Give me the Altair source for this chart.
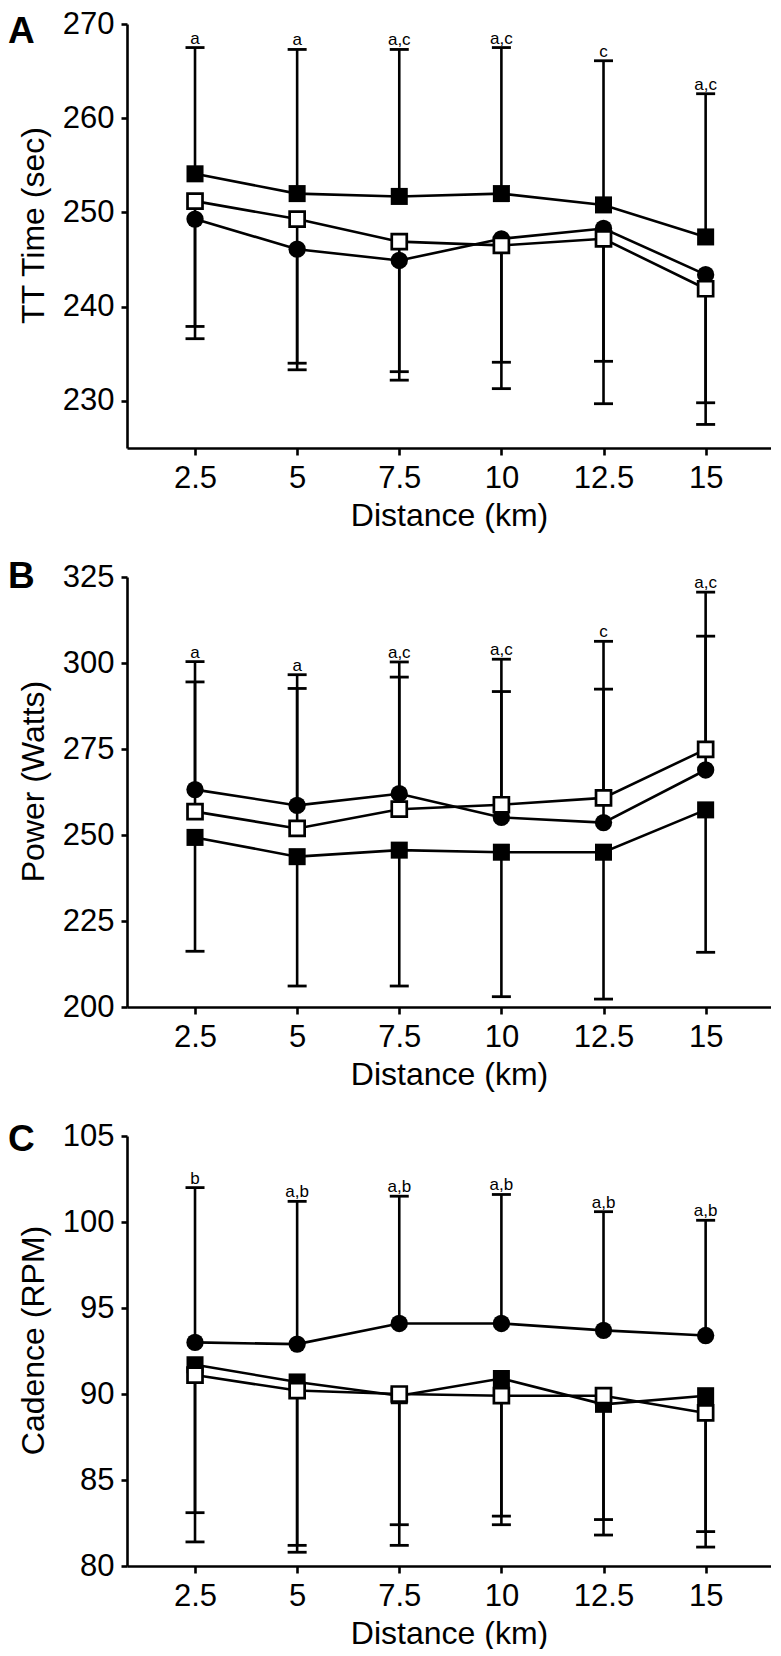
import altair as alt
import pandas as pd

FONT = "'Liberation Sans', Arial, Helvetica, sans-serif"

dist = [2.5, 5, 7.5, 10, 12.5, 15]
x_ticks = [2.5, 5, 7.5, 10, 12.5, 15]

# ---- Panel A: TT time (sec)
a_filled = [254.1, 252.0, 251.7, 252.0, 250.8, 247.4]
a_open = [251.2, 249.3, 246.9, 246.5, 247.2, 241.9]
a_circle = [249.3, 246.1, 244.9, 247.2, 248.3, 243.4]
a_filled_hi = [267.5, 267.3, 267.3, 267.5, 266.1, 262.6]
a_circle_lo = [237.9, 234.0, 233.1, 234.1, 234.2, 229.8]
a_open_lo = [236.6, 233.3, 232.2, 231.3, 229.7, 227.5]
a_sig = ["a", "a", "a,c", "a,c", "c", "a,c"]
a_ticks = [230, 240, 250, 260, 270]

# ---- Panel B: Power (Watts)
b_filled = [249.3, 243.7, 245.6, 245.0, 245.0, 257.3]
b_open = [256.8, 251.9, 257.5, 258.8, 260.8, 274.9]
b_circle = [263.2, 258.6, 262.0, 255.1, 253.6, 268.9]
b_open_hi = [300.4, 296.6, 300.3, 301.1, 306.3, 320.6]
b_circle_hi = [294.5, 292.6, 295.9, 291.7, 292.4, 307.8]
b_filled_lo = [216.2, 206.1, 206.1, 203.0, 202.3, 215.9]
b_sig = ["a", "a", "a,c", "a,c", "c", "a,c"]
b_ticks = [200, 225, 250, 275, 300, 325]

# ---- Panel C: Cadence (RPM)
c_filled = [91.7, 90.7, 89.9, 90.9, 89.4, 89.9]
c_open = [91.1, 90.2, 90.0, 89.9, 89.9, 88.9]
c_circle = [93.0, 92.9, 94.1, 94.1, 93.7, 93.4]
c_circle_hi = [102.0, 101.2, 101.5, 101.6, 100.6, 100.1]
c_filled_lo = [83.1, 81.2, 82.4, 82.9, 82.7, 82.0]
c_open_lo = [81.4, 80.8, 81.2, 82.4, 81.8, 81.1]
c_sig = ["b", "a,b", "a,b", "a,b", "a,b", "a,b"]
c_ticks = [80, 85, 90, 95, 100, 105]

W = 644
X_DOMAIN = [0.835, 16.6]


def panel(filled, opn, circ, errs, sig, ydom, yticks, ytitle, letter, letter_y, h):
    pts = pd.DataFrame(
        {
            "d": dist * 3,
            "v": circ + filled + opn,
            "s": ["circle"] * 6 + ["filled"] * 6 + ["open"] * 6,
        }
    )
    rows = []
    for means, caps in errs:
        for d, m, c in zip(dist, means, caps):
            rows.append({"d": d, "v": m, "v2": c})
    err = pd.DataFrame(rows)
    tops = [max(cs[i] for _, cs in errs) for i in range(6)]
    sigdf = pd.DataFrame({"d": dist, "v2": tops, "lab": sig})

    def X():
        return alt.X(
            "d:Q",
            scale=alt.Scale(domain=X_DOMAIN, nice=False, zero=False),
            axis=alt.Axis(
                values=x_ticks,
                format=".3~g",
                title="Distance (km)",
                titleY=77,
                titleBaseline="alphabetic",
                tickSize=7,
                labelPadding=8,
            ),
        )

    def Y(field):
        return alt.Y(
            field,
            type="quantitative",
            scale=alt.Scale(domain=ydom, nice=False, zero=False),
            axis=alt.Axis(
                values=yticks,
                title=ytitle,
                titleX=-84,
                titleY=h / 2 - 11,
                titleAngle=270,
                titleAlign="center",
                titleBaseline="alphabetic",
                tickSize=6,
                labelPadding=7,
            ),
        )

    base = alt.Chart(pts)
    line = base.mark_line(color="black", strokeWidth=2.6).encode(
        x=X(), y=Y("v"), detail="s:N"
    )
    rules = alt.Chart(err).mark_rule(color="black", strokeWidth=2.6).encode(
        x=X(), y=Y("v"), y2="v2:Q"
    )
    caps = alt.Chart(err).mark_tick(
        orient="horizontal", size=19, thickness=2.8, color="black", opacity=1
    ).encode(x=X(), y=Y("v2"))
    circles = base.transform_filter(alt.datum.s == "circle").mark_point(
        shape="circle", filled=True, size=300, color="black", opacity=1
    ).encode(x=X(), y=Y("v"))
    filled_sq = base.transform_filter(alt.datum.s == "filled").mark_point(
        shape="square", filled=True, size=290, color="black", opacity=1
    ).encode(x=X(), y=Y("v"))
    open_sq = base.transform_filter(alt.datum.s == "open").mark_point(
        shape="square",
        filled=False,
        size=225,
        fill="white",
        fillOpacity=1,
        stroke="black",
        strokeWidth=2.7,
        opacity=1,
    ).encode(x=X(), y=Y("v"))
    sigtxt = alt.Chart(sigdf).mark_text(
        font=FONT, fontSize=17, baseline="alphabetic", dy=-4, color="black"
    ).encode(x=X(), y=Y("v2"), text="lab:N")
    lett = alt.Chart(pd.DataFrame({"t": [letter]})).mark_text(
        font=FONT,
        fontSize=37,
        fontWeight="bold",
        align="left",
        baseline="alphabetic",
        color="black",
    ).encode(x=alt.value(-119), y=alt.value(letter_y), text="t:N")

    return alt.layer(
        line, rules, caps, circles, filled_sq, open_sq, sigtxt, lett
    ).properties(width=W, height=h)


pA = panel(
    a_filled, a_open, a_circle,
    [(a_filled, a_filled_hi), (a_circle, a_circle_lo), (a_open, a_open_lo)],
    a_sig, [225, 270], a_ticks, "TT Time (sec)", "A", 19, 424,
)
pB = panel(
    b_filled, b_open, b_circle,
    [(b_open, b_open_hi), (b_circle, b_circle_hi), (b_filled, b_filled_lo)],
    b_sig, [200, 325], b_ticks, "Power (Watts)", "B", 11, 430,
)
pC = panel(
    c_filled, c_open, c_circle,
    [(c_circle, c_circle_hi), (c_filled, c_filled_lo), (c_open, c_open_lo)],
    c_sig, [80, 105], c_ticks, "Cadence (RPM)", "C", 15, 430,
)

chart = (
    alt.vconcat(pA, pB, pC, spacing=129, bounds="flush")
    .properties(padding=0)
    .configure_view(stroke=None)
    .configure_axis(
        grid=False,
        domainColor="black",
        domainWidth=2.6,
        tickColor="black",
        tickWidth=2.6,
        labelColor="black",
        titleColor="black",
        labelFont=FONT,
        titleFont=FONT,
        labelFontSize=31,
        titleFontSize=32,
        titleFontWeight="normal",
    )
)

chart.save("out.html", embed_options={"renderer": "svg", "actions": False})
